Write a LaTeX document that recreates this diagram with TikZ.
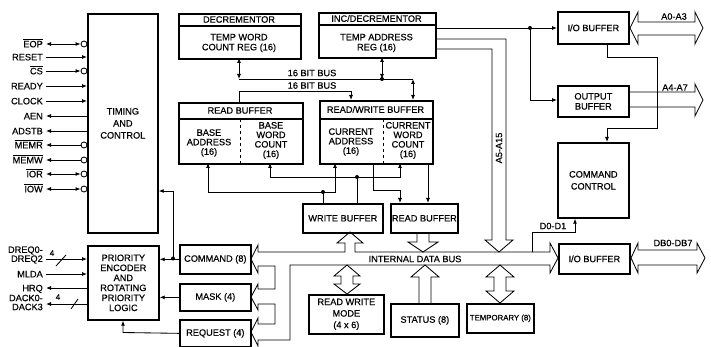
\documentclass[tikz,border=0pt]{standalone}
\usepackage{fontspec}
\setmainfont[FakeBold=0.5]{Liberation Sans}
\usetikzlibrary{arrows.meta}
\begin{document}
\begin{tikzpicture}[x=1pt,y=-1pt,
  font=\fontsize{9.2}{10}\selectfont,
  >={Latex[length=5pt,width=4pt]},
  box/.style={draw, line width=1.7pt, inner sep=0pt, anchor=north west, align=center},
  wire/.style={line width=0.85pt},
  busline/.style={line width=0.85pt, line join=miter},
  lbl/.style={inner sep=0pt, align=center},
  tight/.style={inner sep=0pt, align=center, font=\fontsize{9.2}{9.5}\selectfont},
  pinl/.style={inner sep=0pt, anchor=base east},
  pin2/.style={inner sep=0pt, anchor=east, align=right, font=\fontsize{9.2}{9}\selectfont},
  bub/.style={circle, draw, line width=0.85pt, inner sep=0pt, minimum size=6pt},
  jdot/.style={circle, fill, inner sep=0pt, minimum size=4pt}]
\useasboundingbox (0,0) rectangle (711,347);

% ---------- boxes ----------
\node[box, minimum width=70pt, minimum height=219pt, font=\fontsize{9.2}{12}\selectfont] (tim) at (87,13) {TIMING\\AND\\CONTROL};
\node[box, minimum width=71pt, minimum height=74pt, font=\fontsize{9.2}{10}\selectfont] (pri) at (87,245) {PRIORITY\\ENCODER\\AND\\ROTATING\\PRIORITY\\LOGIC};

\node[box, minimum width=122pt, minimum height=45pt] (dec) at (178,13) {};
\draw[line width=1.3pt] (178,26) -- (300,26);
\node[lbl] (decH) at (239,19.5) {DECREMENTOR};
\node[lbl] (decB) at (239,43) {TEMP WORD\\COUNT REG (16)};

\node[box, minimum width=117pt, minimum height=45pt] (inc) at (318,12) {};
\draw[line width=1.3pt] (318,25) -- (435,25);
\node[lbl] (incH) at (376.5,18.5) {INC/DECREMENTOR};
\node[lbl] (incB) at (376.5,43) {TEMP ADDRESS\\REG (16)};

\node[box, minimum width=124pt, minimum height=61pt] (rb) at (178,102) {};
\draw[line width=1.3pt] (178,119) -- (302,119);
\draw[wire, dash pattern=on 3pt off 3pt] (240,119) -- (240,163);
\node[lbl] (rbH) at (240,110.5) {READ BUFFER};
\node[tight] (rbA) at (209,143) {BASE\\ADDRESS\\(16)};
\node[tight] (rbW) at (271,140.5) {BASE\\WORD\\COUNT\\(16)};

\node[box, minimum width=113pt, minimum height=63pt] (rw) at (319,100) {};
\draw[line width=1.3pt] (319,119) -- (432,119);
\draw[wire, dash pattern=on 3pt off 3pt] (383,119) -- (383,163);
\node[lbl] (rwH) at (375.5,109.5) {READ/WRITE BUFFER};
\node[tight] (rwA) at (351,142) {CURRENT\\ADDRESS\\(16)};
\node[tight] (rwW) at (408,140.5) {CURRENT\\WORD\\COUNT\\(16)};

\node[box, minimum width=80pt, minimum height=29pt] (wb) at (302,203) {WRITE BUFFER};
\node[box, minimum width=67pt, minimum height=29pt] (rdb) at (390,203) {READ BUFFER};
\node[box, minimum width=71pt, minimum height=29pt] (cmd) at (179,244) {COMMAND (8)};
\node[box, minimum width=71pt, minimum height=27pt] (mask) at (179,283) {MASK (4)};
\node[box, minimum width=71pt, minimum height=27pt] (req) at (179,319) {REQUEST (4)};
\node[box, minimum width=75pt, minimum height=39pt, font=\fontsize{9.2}{11.5}\selectfont] (rwm) at (308,294) {READ WRITE\\MODE\\(4 x 6)};
\node[box, minimum width=68pt, minimum height=33pt] (stat) at (390,303) {STATUS (8)};
\node[box, minimum width=67pt, minimum height=29pt, font=\fontsize{7.8}{9}\selectfont] (temp) at (466,303) {TEMPORARY (8)};
\node[box, minimum width=71pt, minimum height=32pt] (iot) at (557,11) {I/O BUFFER};
\node[box, minimum width=71pt, minimum height=31pt] (outb) at (557,85) {OUTPUT\\BUFFER};
\node[box, minimum width=71pt, minimum height=75pt, font=\fontsize{9.2}{12}\selectfont] (cc) at (557,142) {COMMAND\\CONTROL};
\node[box, minimum width=71pt, minimum height=30pt] (iob) at (558,243) {I/O BUFFER};

% ---------- left pins ----------
\node[pinl] (pEOP) at (43,47.3) {$\overline{\hbox{EOP}}$};
\node[bub] (bEOP) at (84,44) {};
\draw[wire,<->] (46,44) -- (bEOP.west);
\node[pinl] (pRESET) at (43,60.3) {RESET};
\draw[wire,->] (46,57) -- (tim.west |- 0,57);
\node[pinl] (pCS) at (43,74.3) {$\overline{\hbox{CS}}$};
\node[bub] (bCS) at (84,71) {};
\draw[wire,->] (46,71) -- (bCS.west);
\node[pinl] (pREADY) at (43,89.3) {READY};
\draw[wire,->] (46,86) -- (tim.west |- 0,86);
\node[pinl] (pCLOCK) at (43,104.3) {CLOCK};
\draw[wire,->] (46,101) -- (tim.west |- 0,101);
\node[pinl] (pAEN) at (43,119.3) {AEN};
\draw[wire,<-] (46,116) -- (tim.west |- 0,116);
\node[pinl] (pADSTB) at (43,134.3) {ADSTB};
\draw[wire,<-] (46,131) -- (tim.west |- 0,131);
\node[pinl] (pMEMR) at (43,148.3) {$\overline{\hbox{MEMR}}$};
\node[bub] (bMEMR) at (84,145) {};
\draw[wire,<-] (46,145) -- (bMEMR.west);
\node[pinl] (pMEMW) at (43,163.3) {$\overline{\hbox{MEMW}}$};
\node[bub] (bMEMW) at (84,160) {};
\draw[wire,<-] (46,160) -- (bMEMW.west);
\node[pinl] (pIOR) at (43,177.3) {$\overline{\hbox{IOR}}$};
\node[bub] (bIOR) at (84,174) {};
\draw[wire,<->] (46,174) -- (bIOR.west);
\node[pinl] (pIOW) at (43,192.3) {$\overline{\hbox{IOW}}$};
\node[bub] (bIOW) at (84,189) {};
\draw[wire,<->] (46,189) -- (bIOW.west);

\node[pin2] (pDREQ) at (43,255) {DREQ0-\\DREQ2};
\draw[wire,->] (46,259) -- (pri.west |- 0,259);
\node[lbl, font=\fontsize{8}{8}\selectfont] (n4a) at (52,253) {4};
\draw[wire] (56,266) -- (66,255);
\node[pinl] (pMLDA) at (43,277.3) {MLDA};
\draw[wire,->] (46,274) -- (pri.west |- 0,274);
\node[pinl] (pHRQ) at (43,291.3) {HRQ};
\draw[wire,<-] (46,288) -- (pri.west |- 0,288);
\node[pin2] (pDACK) at (43,302.5) {DACK0-\\DACK3};
\draw[wire,<-] (46,304) -- (pri.west |- 0,304);
\node[lbl, font=\fontsize{8}{8}\selectfont] (n4b) at (58,297) {4};
\draw[wire] (71,309) -- (78,299);

% ---------- command / mask / request to priority ----------
\draw[wire,->] (cmd.west) -- (cmd.west -| pri.east);
\node[jdot] (j1) at (173,258.5) {};
\draw[wire,->] (j1.center) -- (173,191) -- (tim.east |- 0,191);
\draw[wire,->] (mask.west) -- (mask.west -| pri.east);
\draw[wire,->] (req.west) -- (123,332.5) -- (pri.south -| 123,0);

% ---------- 16 bit buses ----------
\draw[wire,<->] (239,58) -- (239,79);
\draw[wire] (239,79) -- (413,79);
\draw[wire,<->] (382,57) -- (382,79);
\node[jdot] (j2) at (382,79) {};
\draw[wire,<->] (413,79) -- (413,100);
\draw[wire,->] (239,102) -- (239,91) -- (351,91) -- (351,100);
\node[lbl] (bus1) at (312,73) {16 BIT BUS};
\node[lbl] (bus2) at (312,85.5) {16 BIT BUS};

% ---------- below the buffers ----------
\draw[wire,<->] (208,163) -- (208,192) -- (335,192) -- (335,163);
\node[jdot] (j3) at (323,192) {};
\draw[wire] (j3.center) -- (wb.north -| 323,0);
\draw[wire,<->] (270,163) -- (270,177) -- (400,177) -- (400,163);
\node[jdot] (j4) at (357,177) {};
\draw[wire] (j4.center) -- (wb.north -| 357,0);
\draw[wire,->] (373,163) -- (373,190) -- (400,190) -- (rdb.north -| 400,0);
\draw[wire,->] (428,163) -- (rdb.north -| 428,0);

% ---------- address outputs ----------
\draw[wire,->] (inc.east |- 0,28) -- (iot.west |- 0,28);
\node[jdot] (j5) at (530,28) {};
\draw[wire,->] (j5.center) -- (530,100) -- (outb.west |- 0,100);
\draw[wire,->] (iot.south -| 607,0) -- (607,57) -- (657,57) -- (657,128) -- (607,128) -- (cc.north -| 607,0);

% A5-A15 wide arrow
\draw[busline] (inc.east |- 0,39) -- (506,39) -- (506,240) -- (513,240) -- (499,252) -- (485,240) -- (492,240) -- (492,49) -- (inc.east |- 0,49);
\node[lbl, rotate=90] (a515) at (499,148) {A5-A15};

% A0-A3
\draw[busline] (630,28) -- (638,12) -- (638,22) -- (695,22) -- (695,12) -- (703,28) -- (695,44) -- (695,35) -- (638,35) -- (638,44) -- cycle;
\node[lbl] (a03) at (674,16.5) {A0-A3};
% A4-A7
\draw[busline] (628,92) -- (695,92) -- (695,84) -- (703,100) -- (695,116) -- (695,107) -- (628,107);
\node[lbl] (a47) at (675,87.5) {A4-A7};
% DB0-DB7
\draw[busline] (631,258) -- (638,243) -- (638,250) -- (697,250) -- (697,243) -- (705,258) -- (697,273) -- (697,265) -- (638,265) -- (638,273) -- cycle;
\node[lbl] (db) at (673,243) {DB0-DB7};

% ---------- internal data bus ----------
\draw[busline] (355,252) -- (550,252) -- (550,243) -- (558,258) -- (550,273) -- (550,265) -- (290,265) -- (290,340) -- (258,340) -- (258,346) -- (251,332) -- (258,318) -- (258,324) -- (275,324) -- (275,304) -- (258,304) -- (258,310) -- (251,297) -- (258,284) -- (258,289) -- (275,289) -- (275,266) -- (258,266) -- (258,273) -- (251,259) -- (258,245) -- (258,252) -- (345,252) -- (345,243) -- (337,243) -- (350,232) -- (363,243) -- (355,243) -- cycle;
\node[lbl] (idb) at (415,259) {INTERNAL DATA BUS};

% read buffer down arrow
\draw[busline] (417,232) -- (417,242) -- (408,242) -- (423,252) -- (438,242) -- (429,242) -- (429,232);
% read write mode double arrow
\draw[busline] (347,265) -- (360,276) -- (353,276) -- (353,284) -- (360,284) -- (347,294) -- (334,284) -- (341,284) -- (341,276) -- (334,276) -- cycle;
% status up arrow
\draw[busline] (419,303) -- (419,277) -- (411,277) -- (425,265) -- (439,277) -- (431,277) -- (431,303);
% temporary double arrow
\draw[busline] (500,265) -- (514,277) -- (506,277) -- (506,291) -- (514,291) -- (500,303) -- (486,291) -- (494,291) -- (494,277) -- (486,277) -- cycle;

% D0-D1
\draw[wire,->] (532,252) -- (532,232) -- (575,232) -- (cc.south -| 575,0);
\node[lbl] (d01) at (553,226) {D0-D1};
\end{tikzpicture}
\end{document}
